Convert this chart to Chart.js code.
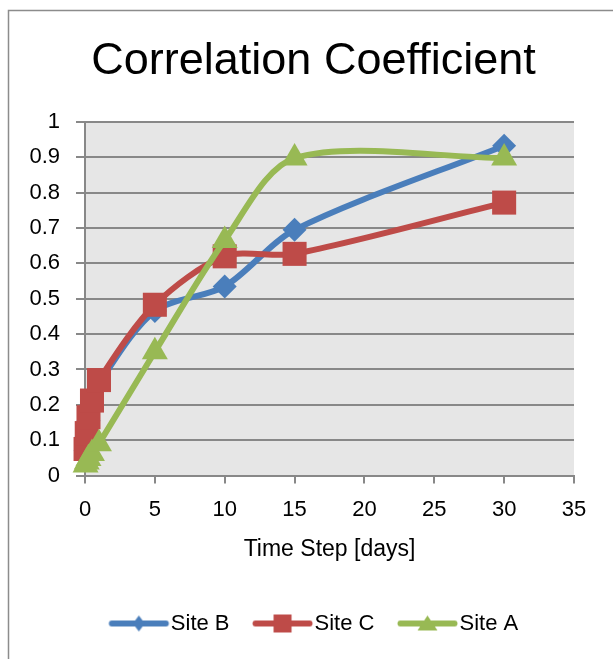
<!doctype html>
<html>
<head>
<title>Correlation Coefficient</title>
<script src="https://cdn.jsdelivr.net/npm/chart.js@4.4.0/dist/chart.umd.min.js"></script>
<style>
body { margin: 0; background: #fff; }
</style>
</head>
<body>
<canvas id="canvas" width="613" height="659"></canvas>
<script>
// values
var timeSteps = [0.04, 0.125, 0.25, 0.5, 1, 5, 10, 15, 30];
var siteB = [0.07, 0.11, 0.155, 0.2, 0.26, 0.465, 0.535, 0.695, 0.933];
var siteC = [0.075, 0.12, 0.165, 0.212, 0.27, 0.483, 0.62, 0.627, 0.772];
var siteA = [0.03, 0.038, 0.048, 0.062, 0.09, 0.35, 0.665, 0.898, 0.898];
var xTicks = [0, 35, 5];
var yTicks = [0, 1, 0.1];

var FONT = "'Liberation Sans', Arial, sans-serif";
var BLUE = '#4a7ebb', RED = '#be4b48', GREEN = '#98b954';

function points(ys) {
    return timeSteps.map(function(x, i) { return { x: x, y: ys[i] }; });
}

// line + marker picture for the legend (drawn centred on the legend box)
function legendIcon(color, shape) {
    var c = document.createElement('canvas');
    c.width = 72; c.height = 24;
    var g = c.getContext('2d');
    var mx = 40.5;
    g.strokeStyle = color; g.fillStyle = color;
    g.lineWidth = 6; g.lineCap = 'round';
    g.beginPath(); g.moveTo(13.5, 12); g.lineTo(67.5, 12); g.stroke();
    g.beginPath();
    if (shape == 'diamond') {
        g.moveTo(mx, 4); g.lineTo(mx + 6, 12); g.lineTo(mx, 20); g.lineTo(mx - 6, 12);
    } else if (shape == 'square') {
        g.rect(mx - 9, 3, 18, 18);
    } else {
        g.moveTo(mx, 4); g.lineTo(mx + 10, 19); g.lineTo(mx - 10, 19);
    }
    g.closePath(); g.fill();
    return c;
}
var icons = [legendIcon(BLUE, 'diamond'), legendIcon(RED, 'square'), legendIcon(GREEN, 'triangle')];

var frame = {
    id: 'frame',
    beforeDraw: function(chart) {
        var ctx = chart.ctx, a = chart.chartArea;
        ctx.save();
        ctx.fillStyle = '#e6e6e6';
        ctx.fillRect(a.left, a.top, a.right - a.left, a.bottom - a.top);
        ctx.strokeStyle = '#8c8c8c';
        ctx.lineWidth = 1.5;
        ctx.strokeRect(8.5, 10.5, 700, 700);
        ctx.restore();
    }
};

window.onload = function() {
    var ctx = document.getElementById('canvas').getContext('2d');
    window.myChart = new Chart(ctx, {
        type: 'line',
        data: {
            datasets: [{
                label: 'Site B',
                data: points(siteB),
                borderColor: BLUE,
                backgroundColor: BLUE,
                pointStyle: 'rectRot',
                pointRadius: 12,
                order: 2
            }, {
                label: 'Site C',
                data: points(siteC),
                borderColor: RED,
                backgroundColor: RED,
                pointStyle: 'rect',
                pointRadius: 17,
                order: 1
            }, {
                label: 'Site A',
                data: points(siteA),
                borderColor: GREEN,
                backgroundColor: GREEN,
                pointStyle: 'triangle',
                pointRadius: 15,
                order: 0
            }]
        },
        options: {
            responsive: false,
            animation: false,
            clip: false,
            layout: { padding: { left: 14, right: 0, top: 0, bottom: 14.5 } },
            elements: {
                line: { borderWidth: 6, tension: 0.3, borderCapStyle: 'round', borderJoinStyle: 'round' },
                point: { borderWidth: 0, hoverRadius: 12 }
            },
            scales: {
                x: {
                    type: 'linear',
                    min: xTicks[0], max: xTicks[1],
                    ticks: { stepSize: xTicks[2], color: '#000', font: { family: FONT, size: 22 }, padding: 13 },
                    grid: { drawOnChartArea: false, tickLength: 8, color: '#888', lineWidth: 2 },
                    border: { color: '#888', width: 2 },
                    title: { display: true, text: 'Time Step [days]', color: '#000', font: { family: FONT, size: 23 }, padding: { top: 0, bottom: 26 } }
                },
                y: {
                    min: yTicks[0], max: yTicks[1],
                    ticks: {
                        stepSize: yTicks[2], color: '#000', font: { family: FONT, size: 22 }, padding: 16,
                        callback: function(v) { return String(Math.round(v * 10) / 10); }
                    },
                    grid: { tickLength: 9, color: '#888', lineWidth: 2 },
                    border: { color: '#888', width: 2 },
                    afterFit: function(scale) { scale.width = 71; }
                },
                // empty strip on the right so the plot ends where the reference does
                yRight: {
                    position: 'right',
                    min: 0, max: 1,
                    ticks: { display: false },
                    grid: { display: false },
                    border: { display: false },
                    afterFit: function(scale) { scale.width = 39; }
                }
            },
            plugins: {
                title: {
                    display: true,
                    text: 'Correlation Coefficient',
                    color: '#000',
                    font: { family: FONT, size: 45, weight: 'normal' },
                    padding: { top: 35, bottom: 33 }
                },
                legend: {
                    position: 'bottom',
                    labels: {
                        usePointStyle: true,
                        pointStyleWidth: 51,
                        padding: 23,
                        color: '#000',
                        font: { family: FONT, size: 22 },
                        generateLabels: function(chart) {
                            return chart.data.datasets.map(function(ds, i) {
                                return { text: ds.label, pointStyle: icons[i], datasetIndex: i, fillStyle: ds.borderColor, strokeStyle: ds.borderColor, lineWidth: 0, hidden: false, fontColor: '#000' };
                            });
                        }
                    }
                },
                tooltip: { enabled: false }
            }
        },
        plugins: [frame]
    });
};
</script>
</body>
</html>
